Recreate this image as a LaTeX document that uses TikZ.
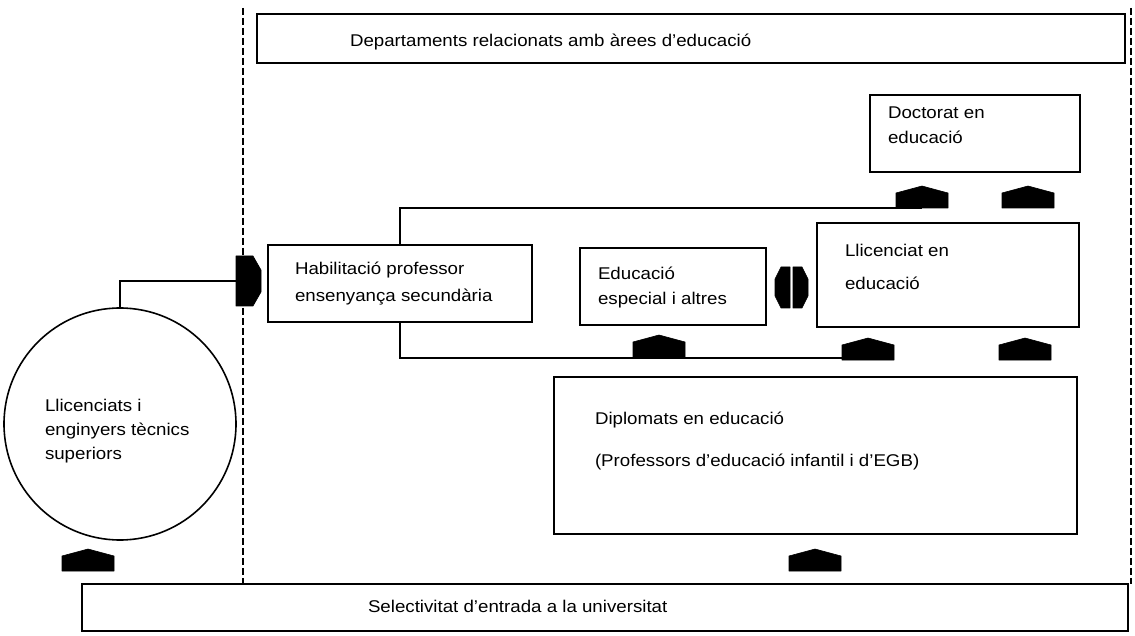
\documentclass[tikz,border=0pt]{standalone}
\usepackage{fontspec}
\setmainfont{Liberation Sans}[FakeStretch=1.1]
\usetikzlibrary{calc}
\newcommand{\bt}[5]{\parbox[c][#2][t]{#1}{\raggedright\leftskip=#3\relax\vspace*{#4}\rule{0pt}{17pt}#5}}
\begin{document}
\begin{tikzpicture}[x=1pt,y=-1pt,
 font=\fontsize{17}{22}\selectfont,
 box/.style={draw, line width=1.8pt, rectangle, inner sep=0pt, outer sep=0pt},
 round/.style={draw, line width=1.6pt, circle, inner sep=0pt, minimum size=232pt},
 link/.style={line width=1.4pt},
 blk/.style={fill=black, draw=black, line width=0.6pt, line join=round},
 zone/.style={line width=1.3pt, dash pattern=on 7pt off 3pt},
 house/.pic={\path[blk] (-26,0) -- (26,0) -- (26,-15) -- (0,-22) -- (-26,-15) -- cycle;}
]
\useasboundingbox (0,0) rectangle (1135,636);

% boxes
\node[box] (dep) at (691,38.5) {\bt{868pt}{49pt}{93pt}{16pt}{Departaments relacionats amb àrees d'educació}};
\node[box] (doc) at (975,133.5) {\bt{210pt}{77pt}{18pt}{7pt}{Doctorat en\\[3pt]educació}};
\node[box] (hab) at (400,283.5) {\bt{264pt}{77pt}{27pt}{13pt}{Habilitació professor\\[5pt]ensenyança secundària}};
\node[box] (edu) at (673,286.5) {\bt{186pt}{77pt}{18pt}{15pt}{Educació\\[3pt]especial i altres}};
\node[box] (lic) at (948,275) {\bt{262pt}{104pt}{28pt}{17pt}{Llicenciat en\\[11pt]educació}};
\node[box] (dip) at (815.5,455.5) {\bt{523pt}{157pt}{41pt}{30pt}{Diplomats en educació\\[20pt](Professors d'educació infantil i d'EGB)}};
\node[box] (sel) at (605,607.5) {\bt{1046pt}{47pt}{286pt}{11pt}{Selectivitat d'entrada a la universitat}};
\node[round] (circ) at (120,424) {\bt{150pt}{120pt}{0pt}{30pt}{Llicenciats i\\[2pt]enginyers tècnics\\[2pt]superiors}};

% dashed zone boundaries
\coordinate (zl) at (243,8);
\coordinate (zr) at (1131,8);
\draw[zone] (zl) -- (zl |- sel.north);
\draw[zone] (zr) -- (zr |- sel.north);

% arrow heads
\coordinate (hD1) at (922,208);
\coordinate (hD2) at (1028,208);
\coordinate (hL1) at (868,360);
\coordinate (hL2) at (1025,360);
\coordinate (hE) at (659,357);
\coordinate (hDip) at (815,571);
\coordinate (hC) at (88,571);
\foreach \c in {hD1,hD2,hL1,hL2,hE,hDip,hC} \pic at (\c) {house};

\coordinate (arrL) at (236,281);
\path[blk] (236,256) -- (253,256) -- (261,270) -- (261,292) -- (253,306) -- (236,306) -- cycle;

\path[blk] (790,267) -- (781,267) -- (775,279) -- (775,296) -- (781,308) -- (790,308) -- cycle;
\path[blk] (793,267) -- (802,267) -- (808,279) -- (808,296) -- (802,308) -- (793,308) -- cycle;

% connectors
\draw[link] (hab.north) |- (hD1);
\draw[link] (hab.south) |- ($(hL1)+(0,-2)$);
\draw[link] (circ.north) |- (arrL);
\end{tikzpicture}
\end{document}
